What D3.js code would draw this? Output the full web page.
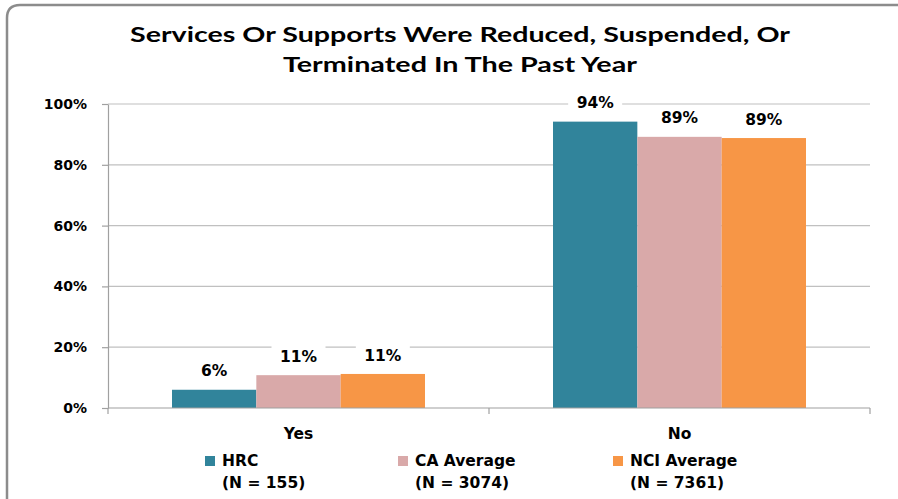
<!DOCTYPE html>
<html><head><meta charset="utf-8">
<script src="https://cdn.jsdelivr.net/npm/d3@7/dist/d3.min.js"></script>
<style>body{margin:0;background:#fff}svg{display:block}</style>
</head><body><svg id="c" width="898" height="499"></svg>
<script>
const categories = ["Yes", "No"];
const seriesNames = ["HRC", "CA Average", "NCI Average"];
const seriesN = ["(N = 155)", "(N = 3074)", "(N = 7361)"];
const hrcValues = [6, 94.2];
const caValues = [10.8, 89.2];
const nciValues = [11.2, 88.8];
const yTicks = [0, 20, 40, 60, 80, 100];
const titleLines = ["Services Or Supports Were Reduced, Suspended, Or", "Terminated In The Past Year"];
const colors = ["#31849B", "#D9A9A9", "#F79646"];

const series = [hrcValues, caValues, nciValues];
const svg = d3.select("#c");
const font = "'DejaVu Sans', Verdana, sans-serif";

// frame
svg.append("path")
  .attr("d", "M7,520 L7,18 Q7,5 20,5 L910,5")
  .attr("fill", "none").attr("stroke", "#8c8c8c").attr("stroke-width", 2.5);

// title
const titleLen = [660, 354];
svg.append("g").selectAll("text").data(titleLines).join("text")
  .attr("x", 460).attr("y", (d, i) => 42 + i * 30)
  .attr("text-anchor", "middle")
  .attr("textLength", (d, i) => titleLen[i]).attr("lengthAdjust", "spacingAndGlyphs")
  .attr("font-family", "Lato, 'Open Sans', sans-serif").attr("font-weight", "bold")
  .attr("font-size", 21).attr("fill", "#000").text(d => d);

const pLeft = 108, pRight = 870, pTop = 104, pBottom = 408;
const x0 = d3.scaleBand().domain(categories).range([pLeft, pRight]).paddingInner(0.336).paddingOuter(0.168);
const x1 = d3.scaleBand().domain(d3.range(series.length)).range([0, x0.bandwidth()]);
const y = d3.scaleLinear().domain([0, 100]).range([pBottom, pTop]);

// gridlines
svg.append("g").selectAll("line").data(yTicks.filter(t => t > 0)).join("line")
  .attr("x1", pLeft).attr("x2", pRight).attr("y1", d => y(d)).attr("y2", d => y(d))
  .attr("stroke", "#c0c0c0").attr("stroke-width", 1.2);

// y axis
const yAxis = svg.append("g").attr("transform", `translate(${pLeft},0)`)
  .call(d3.axisLeft(y).tickValues(yTicks).tickFormat(d => d + "%").tickSize(6).tickSizeOuter(0));
yAxis.select(".domain").attr("stroke", "#a0a0a0").attr("stroke-width", 1.2);
yAxis.selectAll(".tick line").attr("stroke", "#a0a0a0").attr("stroke-width", 1.2);
yAxis.selectAll(".tick text").attr("font-family", font).attr("font-weight", "bold")
  .attr("font-size", 14).attr("fill", "#000").attr("x", -21);

// bars
const groups = svg.append("g").selectAll("g").data(categories).join("g")
  .attr("transform", d => `translate(${x0(d)},0)`);
groups.selectAll("rect").data((c, ci) => series.map((s, si) => ({si, v: s[ci]}))).join("rect")
  .attr("x", d => x1(d.si)).attr("width", x1.bandwidth())
  .attr("y", d => y(d.v)).attr("height", d => y(0) - y(d.v))
  .attr("fill", d => colors[d.si]);

// x axis
const xAxis = svg.append("g").attr("transform", `translate(0,${pBottom})`);
xAxis.append("line").attr("x1", pLeft).attr("x2", pRight).attr("stroke", "#a0a0a0").attr("stroke-width", 1.2);
const xTickPos = [pLeft, (pLeft + pRight) / 2, pRight];
xAxis.selectAll(".xt").data(xTickPos).join("line").attr("class", "xt")
  .attr("x1", d => d).attr("x2", d => d).attr("y1", 0).attr("y2", 6)
  .attr("stroke", "#a0a0a0").attr("stroke-width", 1.2);
xAxis.selectAll("text").data(categories).join("text")
  .attr("x", d => x0(d) + x0.bandwidth() / 2).attr("y", 31)
  .attr("text-anchor", "middle").attr("font-family", font).attr("font-weight", "bold")
  .attr("font-size", 15.5).attr("fill", "#000").text(d => d);

// data labels
const lab = groups.selectAll("g.lab").data((c, ci) => series.map((s, si) => ({si, v: s[ci]}))).join("g")
  .attr("class", "lab")
  .attr("transform", d => `translate(${x1(d.si) + x1.bandwidth() / 2},${y(d.v) - 19})`);
lab.append("rect").attr("x", -27).attr("y", -12).attr("width", 54).attr("height", 24).attr("fill", "#fff");
lab.append("text").attr("text-anchor", "middle").attr("dy", "0.36em")
  .attr("font-family", font).attr("font-weight", "bold").attr("font-size", 15.5).attr("fill", "#000")
  .text(d => Math.round(d.v) + "%");

// legend
const legX = [205, 398, 613];
const leg = svg.append("g").selectAll("g").data(seriesNames).join("g")
  .attr("transform", (d, i) => `translate(${legX[i]},456)`);
leg.append("rect").attr("width", 10).attr("height", 10).attr("fill", (d, i) => colors[i]);
leg.append("text").attr("x", 17).attr("y", 10).attr("font-family", font).attr("font-weight", "bold")
  .attr("font-size", 15.5).attr("fill", "#000").text(d => d);
leg.append("text").attr("x", 17).attr("y", 32).attr("font-family", font).attr("font-weight", "bold")
  .attr("font-size", 15.5).attr("fill", "#000").text((d, i) => seriesN[i]);
</script></body></html>
